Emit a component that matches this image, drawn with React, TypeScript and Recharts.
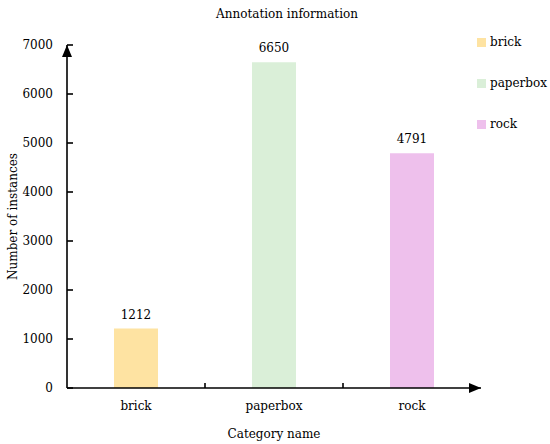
import React from "react";
import { BarChart, Bar, XAxis, YAxis, Cell, LabelList } from "recharts";

const categories = ["brick", "paperbox", "rock"];
const counts = [1212, 6650, 4791];
const colors = ["#FEE3A2", "#DAEFD8", "#EEC0EC"];
const yTicks = [0, 1000, 2000, 3000, 4000, 5000, 6000, 7000];

const FONT = "DejaVu Serif";
const FS = 12;
const TICK_SIZE = 5;
const TICK_MARGIN = 8;
const Y_TICK_GAP = 14;

const data = categories.map((name, i) => ({ name, count: counts[i] }));

// category label at the band centre, small tick on the band's right edge
function CategoryTick(props: any) {
  const { x, y, payload, index } = props;
  const half = payload?.offset ?? 0;
  const axisY = y - TICK_SIZE - TICK_MARGIN;
  return (
    <g>
      {index < categories.length - 1 && (
        <line x1={x + half} x2={x + half} y1={axisY} y2={axisY - 5} stroke="#000" strokeWidth={1.6} />
      )}
      <text x={x} y={y} dy="0.71em" textAnchor="middle" fill="#000" fontSize={FS} fontFamily={FONT}>
        {payload.value}
      </text>
    </g>
  );
}

// value label left of the axis, tick mark pointing into the plot
function ValueTick(props: any) {
  const { x, y, payload } = props;
  const axisX = x + Y_TICK_GAP;
  return (
    <g>
      <line x1={axisX} x2={axisX + 6} y1={y} y2={y} stroke="#000" strokeWidth={1.6} />
      <text x={x} y={y} dy="0.355em" textAnchor="end" fill="#000" fontSize={FS} fontFamily={FONT}>
        {payload.value}
      </text>
    </g>
  );
}

export default function App() {
  return (
    <div style={{ position: "absolute", left: 0, top: 0, width: 550, height: 444, background: "#fff", fontFamily: FONT }}>
      <svg width={0} height={0} style={{ position: "absolute" }}>
        <defs>
          <marker id="arrow" viewBox="0 0 12 10" refX={12} refY={5} markerWidth={12} markerHeight={10}
            markerUnits="userSpaceOnUse" orient="auto-start-reverse">
            <path d="M0,0 L12,5 L0,10 z" fill="#000" />
          </marker>
        </defs>
      </svg>

      <div style={{ position: "absolute", left: 287, top: 14, transform: "translate(-50%, -50%)", fontSize: FS, whiteSpace: "nowrap" }}>
        Annotation information
      </div>

      <BarChart width={550} height={444} data={data} margin={{ top: 45, right: 69, bottom: 0, left: 17 }}>
        <XAxis
          dataKey="name"
          height={56}
          tickLine={false}
          tickSize={TICK_SIZE}
          tickMargin={TICK_MARGIN}
          tick={<CategoryTick />}
          axisLine={{ stroke: "#000", strokeWidth: 1.6, markerEnd: "url(#arrow)" }}
          label={{ value: "Category name", position: "insideBottom", offset: 6, fill: "#000", fontSize: FS, fontFamily: FONT }}
        />
        <YAxis
          width={50}
          domain={[0, 7000]}
          ticks={yTicks}
          interval={0}
          tickSize={5}
          tickMargin={Y_TICK_GAP - 5}
          tickLine={false}
          tick={<ValueTick />}
          axisLine={{ stroke: "#000", strokeWidth: 1.6, markerStart: "url(#arrow)" }}
          label={({ viewBox }: any) => {
            const cx = viewBox.x - 4;
            const cy = viewBox.y + viewBox.height / 2;
            return (
              <text x={cx} y={cy} transform={`rotate(-90, ${cx}, ${cy})`} textAnchor="middle"
                dominantBaseline="central" fill="#000" fontSize={FS} fontFamily={FONT}>
                Number of instances
              </text>
            );
          }}
        />
        <Bar dataKey="count" barSize={44} isAnimationActive={false}>
          {data.map((_, i) => (
            <Cell key={i} fill={colors[i]} />
          ))}
          <LabelList dataKey="count" position="top" offset={10} fill="#000" fontSize={FS} fontFamily={FONT} />
        </Bar>
      </BarChart>

      <div style={{ position: "absolute", left: 477, top: 0, fontSize: FS }}>
        {categories.map((c, i) => (
          <div key={c} style={{ position: "absolute", top: 42 + i * 41, transform: "translateY(-50%)", display: "flex", alignItems: "center", whiteSpace: "nowrap" }}>
            <span style={{ width: 9, height: 9, background: colors[i], marginRight: 4, display: "inline-block" }} />
            {c}
          </div>
        ))}
      </div>
    </div>
  );
}
